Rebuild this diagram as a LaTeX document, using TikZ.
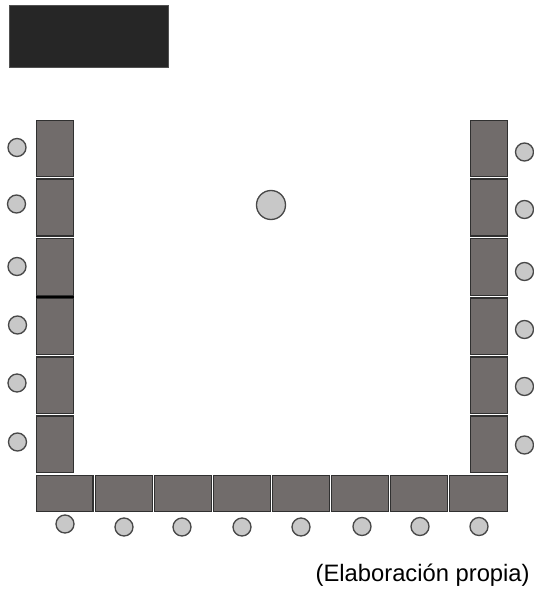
\documentclass[tikz,border=0pt]{standalone}
\usepackage{fontspec}
\setmainfont{Liberation Sans}
\definecolor{deskfill}{HTML}{716C6B}
\definecolor{deskline}{HTML}{303030}
\definecolor{seatfill}{HTML}{C8C8C8}
\definecolor{seatline}{HTML}{484848}
\definecolor{boardfill}{HTML}{262626}
\tikzset{
  desk/.style={draw=deskline,fill=deskfill,line width=0.9pt},
  seat/.style={draw=seatline,fill=seatfill,line width=1pt},
}
\begin{document}
\begin{tikzpicture}[x=0.75pt,y=-0.75pt]
\useasboundingbox (0,0) rectangle (533,589);
\fill[white] (0,0) rectangle (533,589);
% board
\draw[draw=boardfill!80!white,fill=boardfill,line width=0.5pt] (9.5,5.5) rectangle (168,67.5);
% left and right columns
\foreach \a/\b in {120.5/176.5,179/236,238.5/295.5,298/354.5,357/413.5,416/472.5}{
  \draw[desk] (36.5,\a) rectangle (73.5,\b);
  \draw[desk] (470.5,\a) rectangle (507.5,\b);
}
\draw[black,line width=1.4pt] (36,296.8) -- (73.5,296.8);
% bottom row
\foreach \a/\b in {36.5/93,95.5/152.5,154.5/211.5,213.5/270.5,272.5/329.5,331.5/388.5,390.5/447.5,449.5/507.5}{
  \draw[desk] (\a,475.5) rectangle (\b,511.5);
}
% seats
\foreach \x/\y in {17/147.5,16.5/204,17/266.5,17.5/325,17/383,17.5/442,
  65/524,124/527,182/527,242/527,301/527,362/526.5,420/526.5,479/526.5,
  524.5/152,524.5/209.5,524.5/271.5,524.5/329.5,524.5/386.5,524.5/445}{
  \draw[seat] (\x,\y) circle (9);
}
\draw[seat] (271,205) circle (14.5);
\node[anchor=base east,inner sep=0pt,font=\fontsize{13.5pt}{16pt}\selectfont,scale=1.32] (caption) at (530,581) {(Elaboración propia)};
\end{tikzpicture}
\end{document}
